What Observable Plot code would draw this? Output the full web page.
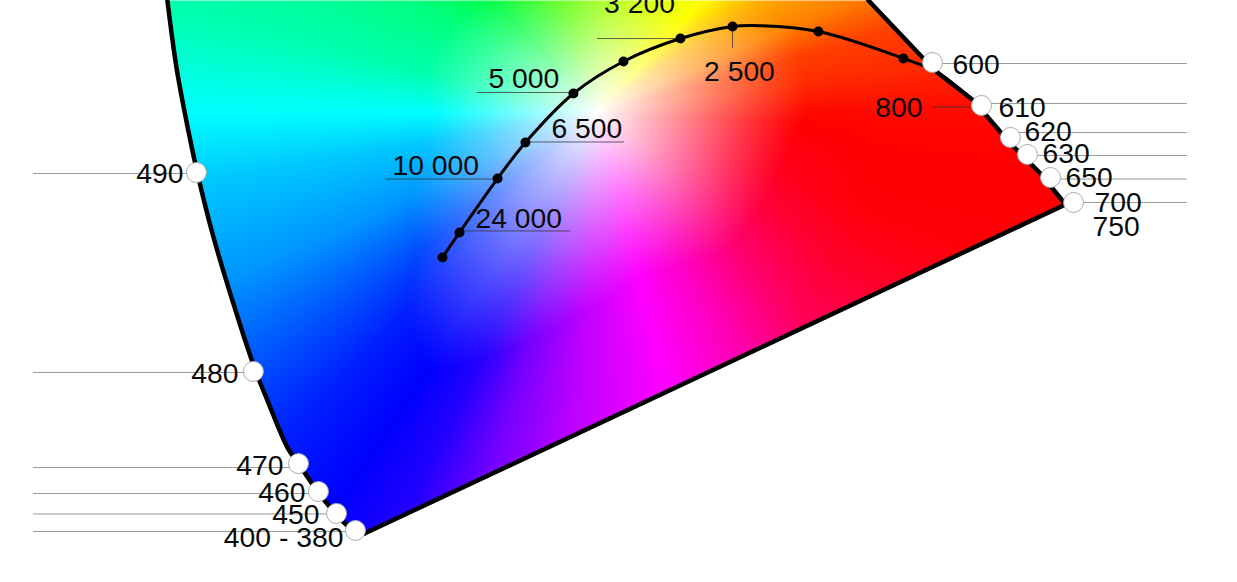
<!DOCTYPE html>
<html><head><meta charset="utf-8">
<style>html,body{margin:0;padding:0;background:#fff}svg{display:block}</style>
<script src="https://cdn.jsdelivr.net/npm/d3@7"></script>
<script src="https://cdn.jsdelivr.net/npm/@observablehq/plot@0.6"></script>
</head><body><div id="c"></div>
<script>
// chromaticity window
const xDomain = [-0.1031, 0.8633];
const yDomain = [-0.0365, 0.4254];

// boundary of the diagram
const blueEdge = [[.0273,.4254],[.0344,.3722],[.0441,.3198],[.0508,.2881],[.0625,.2405],[.0781,.1873],[.0961,.1317],[.1055,.1079],[.1211,.0706],[.1297,.0579],[.1453,.0349],[.1586,.0183],[.1680,.0087],[.1813,.0024]];
const purpleEdge = [[.1813,.0024],[.7289,.2635]];
const redEdge = [[.7289,.2635],[.7094,.2881],[.6859,.3119],[.6570,.3460],[.6289,.3683],[.6172,.3802],[.5750,.4254]];

// wavelength markers
const nmX = [.0500,.0945,.1297,.1453,.1594,.1742,.6250,.6633,.6859,.6992,.7172,.7352];
const nmY = [.2889,.1310,.0579,.0357,.0183,.0048,.3762,.3421,.3167,.3032,.2849,.2651];
const nmRuleY = [.2881,.1302,.0548,.0341,.0179,.0040,.3754,.3437,.3206,.3024,.2837,.2651];
const nmRuleEnd = [-.0773,-.0773,-.0773,-.0773,-.0773,-.0773,.8242,.8242,.8242,.8242,.8242,.8242];

// labels: text, x, y
const leftNames = ["490","480","470","460","450","400 - 380","800"];
const leftX = [.0398,.0828,.1180,.1352,.1461,.1648,.6172];
const leftY = [.2881,.1294,.0563,.0349,.0175,-.0008,.3405];
const rightNames = ["600","610","620","630","650","700","750","5 000","6 500","10 000","24 000"];
const rightX = [.6406,.6766,.6969,.7109,.7289,.7516,.7500,.2781,.3273,.2031,.2680];
const rightY = [.3746,.3405,.3214,.3040,.2849,.2651,.2460,.3635,.3238,.2944,.2524];
const midNames = ["3 200","2 500"];
const midX = [.3961,.4742];
const midY = [.4230,.3690];

// black-body curve
const curveX = [.2422,.2555,.2852,.3070,.3445,.3836,.4281,.4688,.4852,.5359,.6023,.6289,.6570];
const curveY = [.2214,.2413,.2841,.3127,.3516,.3770,.3952,.4048,.4056,.4008,.3794,.3683,.3460];
const curveDot = [1,1,1,1,1,1,1,1,0,1,1,0,0];

// thin leaders of the temperature labels
const tempRuleY = [.3952,.3524,.3131,.2837,.2425,.3409];
const tempRuleX1 = [.3633,.2695,.3070,.1977,.2555,.6258];
const tempRuleX2 = [.4281,.3445,.3844,.2852,.3422,.6586];
const tempTick = {x:.4688, y1:.4048, y2:.3873};

// colour wheel around the white spot
const whiteSpot = [.3633,.3365];
const wheelAngle   = [0,8,16,24,34,47,83,107,121,132,149,167,180,190,205,218,227,237,245,254,266,284,300,314,328,340,352,360];
const wheelHueNear = [2,10,15,30,40,60,80,100,120,135,150,160,180,193,205,222,233,240,248,268,285,300,312,325,338,345,353,362];
const wheelHueFar  = [2,10,15,30,40,60,80,100,120,135,150,162,180,193,205,222,233,240,248,268,285,300,318,338,350,358,360,362];
const wheelReach   = [.165,.165,.165,.165,.15,.105,.114,.119,.146,.128,.135,.14,.13,.14,.16,.18,.22,.245,.22,.19,.16,.135,.14,.15,.15,.15,.155,.165];

const hueNear = d3.scaleLinear(wheelAngle, wheelHueNear);
const hueFar = d3.scaleLinear(wheelAngle, wheelHueFar);
const reachAt = d3.scaleLinear(wheelAngle, wheelReach);
const outline = [...blueEdge, ...purpleEdge, ...redEdge];
const field = (x, y) => {
  if (!d3.polygonContains(outline, [x, y])) return "#fff";
  const dx = x - whiteSpot[0], dy = y - whiteSpot[1], r = Math.hypot(dx, dy);
  const a = (Math.atan2(dy, dx) * 180 / Math.PI + 360) % 360;
  const t = Math.min(1, r / reachAt(a));
  const s = 1 - Math.pow(1 - t, 1.15);
  const k = Math.max(0, Math.min(1, (r - .07) / .15));
  const hue = hueNear(a) + (hueFar(a) - hueNear(a)) * k;
  const c = d3.hsl(hue % 360, 1, .5).rgb();
  const m = v => Math.round(255 * (1 - s) + v * s);
  return `rgb(${m(c.r)},${m(c.g)},${m(c.b)})`;
};

const font = {fontFamily: "Liberation Sans", fontSize: 28.3, fill: "#0a0a0a", lineAnchor: "middle"};
const idx = a => a.map((_, i) => i);
const greyRule = {stroke: "#999", strokeWidth: 1};
const darkRule = {stroke: "#333", strokeWidth: 1, strokeOpacity: .75};
const edge = {x: "0", y: "1", stroke: "#000", strokeWidth: 4.5, strokeLinejoin: "round"};

const chart = Plot.plot({
  width: 1237, height: 582,
  marginTop: 0, marginRight: 0, marginBottom: 0, marginLeft: 0,
  x: {domain: xDomain, axis: null},
  y: {domain: yDomain, axis: null},
  color: {type: "identity"},
  style: {background: "#fff"},
  marks: [
    Plot.raster({x1: xDomain[0], x2: xDomain[1], y1: yDomain[0], y2: yDomain[1], fill: field, pixelSize: 1}),
    Plot.line(blueEdge, {...edge, curve: "catmull-rom"}),
    Plot.line(purpleEdge, edge),
    Plot.line(redEdge, edge),
    Plot.ruleY(idx(nmX), {y: i => nmRuleY[i], x1: i => nmRuleEnd[i], x2: i => nmX[i], ...greyRule}),
    Plot.ruleY(idx(tempRuleY), {y: i => tempRuleY[i], x1: i => tempRuleX1[i], x2: i => tempRuleX2[i], ...darkRule}),
    Plot.ruleX([tempTick.x], {y1: tempTick.y1, y2: tempTick.y2, ...darkRule}),
    Plot.line(idx(curveX), {x: i => curveX[i], y: i => curveY[i], curve: "catmull-rom", stroke: "#000", strokeWidth: 3}),
    Plot.dot(idx(curveX).filter(i => curveDot[i]), {x: i => curveX[i], y: i => curveY[i], r: 5, fill: "#000"}),
    Plot.dot(idx(nmX), {x: i => nmX[i], y: i => nmY[i], r: 10, fill: "#fff", stroke: "#aaa", strokeWidth: 1}),
    Plot.text(leftNames, {...font, x: (d, i) => leftX[i], y: (d, i) => leftY[i], text: d => d, textAnchor: "end"}),
    Plot.text(rightNames, {...font, x: (d, i) => rightX[i], y: (d, i) => rightY[i], text: d => d, textAnchor: "start"}),
    Plot.text(midNames, {...font, x: (d, i) => midX[i], y: (d, i) => midY[i], text: d => d, textAnchor: "middle"})
  ]
});
document.getElementById("c").append(chart);
</script></body></html>
